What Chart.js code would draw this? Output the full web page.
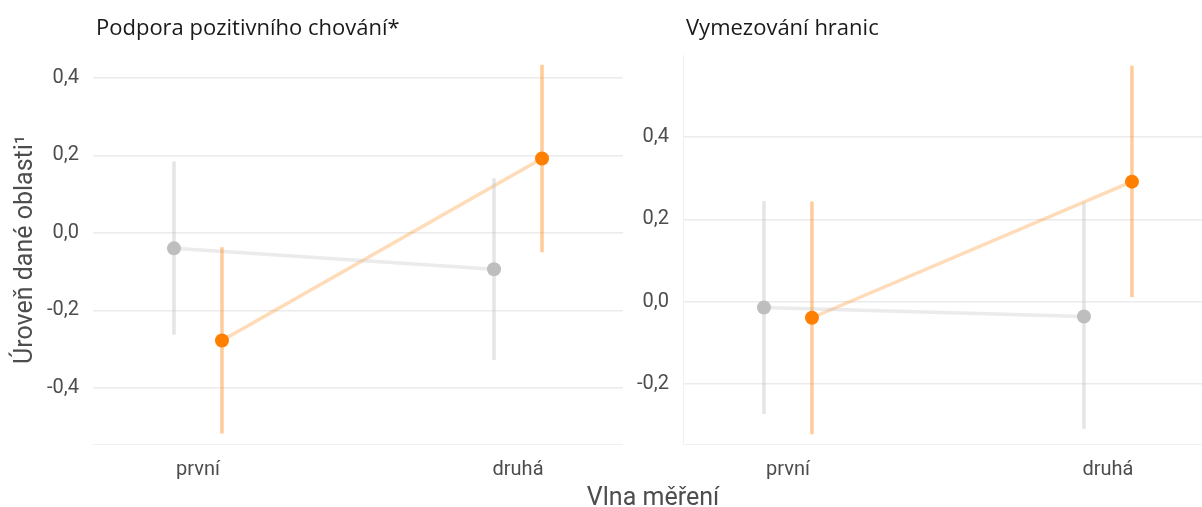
<!DOCTYPE html>
<html>
<head>
<meta charset="utf-8">
<script src="https://cdn.jsdelivr.net/npm/chart.js@4.4.0/dist/chart.umd.min.js"></script>
<style>
  body { margin: 0; width: 1202px; height: 507px; overflow: hidden; background: #fff; position: relative; }
  .box { position: absolute; top: 0; }
  .panelTitle { position: absolute; top: 15px; font-family: 'Open Sans', 'Noto Sans', sans-serif; font-size: 22px; line-height: 22px; color: #1a1a1a; white-space: nowrap; }
  #xTitle { position: absolute; left: 0; width: 1306px; top: 484px; text-align: center; font-family: 'Roboto', sans-serif; font-size: 25px; line-height: 25px; color: #4d4d4d; }
</style>
</head>
<body>
<div class="box" style="left:0"><canvas id="chart1" width="623" height="507"></canvas></div>
<div class="box" style="left:623px"><canvas id="chart2" width="579" height="507"></canvas></div>
<div class="panelTitle" id="title1" style="left:96px"></div>
<div class="panelTitle" id="title2" style="left:686px"></div>
<div id="xTitle">Vlna měření</div>

<script>
const waves = ['první', 'druhá'];
const panelTitles = ['Podpora pozitivního chování*', 'Vymezování hranic'];
const yTitle = 'Úroveň dané oblasti¹';
const yTicks1 = [-0.4, -0.2, 0, 0.2, 0.4];
const yTicks2 = [-0.2, 0, 0.2, 0.4];

// panel 1 - Podpora pozitivního chování
const p1GreyMean = [-0.040, -0.094];
const p1GreyLow = [-0.263, -0.328];
const p1GreyHigh = [0.184, 0.141];
const p1OrangeMean = [-0.278, 0.192];
const p1OrangeLow = [-0.518, -0.050];
const p1OrangeHigh = [-0.037, 0.434];

// panel 2 - Vymezování hranic
const p2GreyMean = [-0.014, -0.036];
const p2GreyLow = [-0.273, -0.309];
const p2GreyHigh = [0.245, 0.241];
const p2OrangeMean = [-0.039, 0.292];
const p2OrangeLow = [-0.322, 0.011];
const p2OrangeHigh = [0.244, 0.574];

const dodge = 0.075;
const grey = '#bebebe';
const orange = '#ff7f00';
const tickFont = "'Roboto', sans-serif";

document.getElementById('title1').textContent = panelTitles[0];
document.getElementById('title2').textContent = panelTitles[1];

function meanPoints(means, shift) {
  return means.map((m, i) => ({ x: i + 1 + shift, y: m }));
}

function errorBars(low, high, shift) {
  const pts = [];
  low.forEach((lo, i) => {
    const x = i + 1 + shift;
    pts.push({ x: x, y: lo }, { x: x, y: high[i] }, { x: x, y: null });
  });
  return pts;
}

function makeDatasets(gMean, gLow, gHigh, oMean, oLow, oHigh) {
  return [
    { data: meanPoints(gMean, -dodge), borderColor: 'rgba(190,190,190,0.3)', borderWidth: 3.5, pointRadius: 0, order: 2 },
    { data: meanPoints(oMean, dodge), borderColor: 'rgba(255,127,0,0.28)', borderWidth: 3.5, pointRadius: 0, order: 2 },
    { data: errorBars(gLow, gHigh, -dodge), borderColor: 'rgba(190,190,190,0.4)', borderWidth: 3.5, pointRadius: 0, spanGaps: false, order: 1 },
    { data: errorBars(oLow, oHigh, dodge), borderColor: 'rgba(255,127,0,0.4)', borderWidth: 3.5, pointRadius: 0, spanGaps: false, order: 1 },
    { data: meanPoints(gMean, -dodge), showLine: false, pointRadius: 7, pointBackgroundColor: grey, pointBorderWidth: 0, order: 0 },
    { data: meanPoints(oMean, dodge), showLine: false, pointRadius: 7, pointBackgroundColor: orange, pointBorderWidth: 0, order: 0 }
  ];
}

function makePanel(canvasId, datasets, cfg) {
  const ctx = document.getElementById(canvasId).getContext('2d');
  return new Chart(ctx, {
    type: 'line',
    data: { datasets: datasets },
    options: {
      responsive: false,
      animation: false,
      layout: { autoPadding: false, padding: { top: 55, right: 0, bottom: 0, left: 0 } },
      plugins: { legend: { display: false }, tooltip: { enabled: false } },
      scales: {
        x: {
          type: 'linear',
          min: 1 - 0.328,
          max: cfg.xMax,
          afterBuildTicks: scale => { scale.ticks = waves.map((w, i) => ({ value: i + 1 })); },
          afterFit: scale => {
            scale.height = 63;
            scale.paddingLeft = 0;
            scale.paddingRight = 0;
          },
          ticks: {
            callback: value => waves[value - 1],
            color: '#4d4d4d',
            font: { family: tickFont, size: 20 },
            padding: 14,
            maxRotation: 0
          },
          grid: { display: false, drawTicks: false },
          border: { display: true, color: '#f0f0f0', width: 1 }
        },
        y: {
          min: cfg.yMin,
          max: cfg.yMax,
          afterBuildTicks: scale => { scale.ticks = cfg.yTicks.map(v => ({ value: v })); },
          afterFit: scale => {
            scale.width = cfg.yWidth;
            scale.paddingTop = 0;
            scale.paddingBottom = 0;
          },
          ticks: {
            callback: value => value.toFixed(1).replace('.', ','),
            color: '#4d4d4d',
            font: { family: tickFont, size: 20 },
            padding: 14
          },
          grid: { color: '#ebebeb', lineWidth: 1.5, drawTicks: false },
          border: { display: cfg.leftBorder, color: '#f0f0f0', width: 1 },
          title: {
            display: cfg.showTitle,
            text: yTitle,
            color: '#4d4d4d',
            font: { family: tickFont, size: 25 },
            padding: { top: 11, bottom: 0 }
          }
        }
      }
    }
  });
}

makePanel('chart1',
  makeDatasets(p1GreyMean, p1GreyLow, p1GreyHigh, p1OrangeMean, p1OrangeLow, p1OrangeHigh),
  { xMax: 2 + 0.328, yMin: -0.545, yMax: 0.459, yTicks: yTicks1, yWidth: 93, leftBorder: false, showTitle: true });

makePanel('chart2',
  makeDatasets(p2GreyMean, p2GreyLow, p2GreyHigh, p2OrangeMean, p2OrangeLow, p2OrangeHigh),
  { xMax: 1 - 0.328 + 519 / 320, yMin: -0.346, yMax: 0.600, yTicks: yTicks2, yWidth: 60, leftBorder: true, showTitle: false });
</script>
</body>
</html>
